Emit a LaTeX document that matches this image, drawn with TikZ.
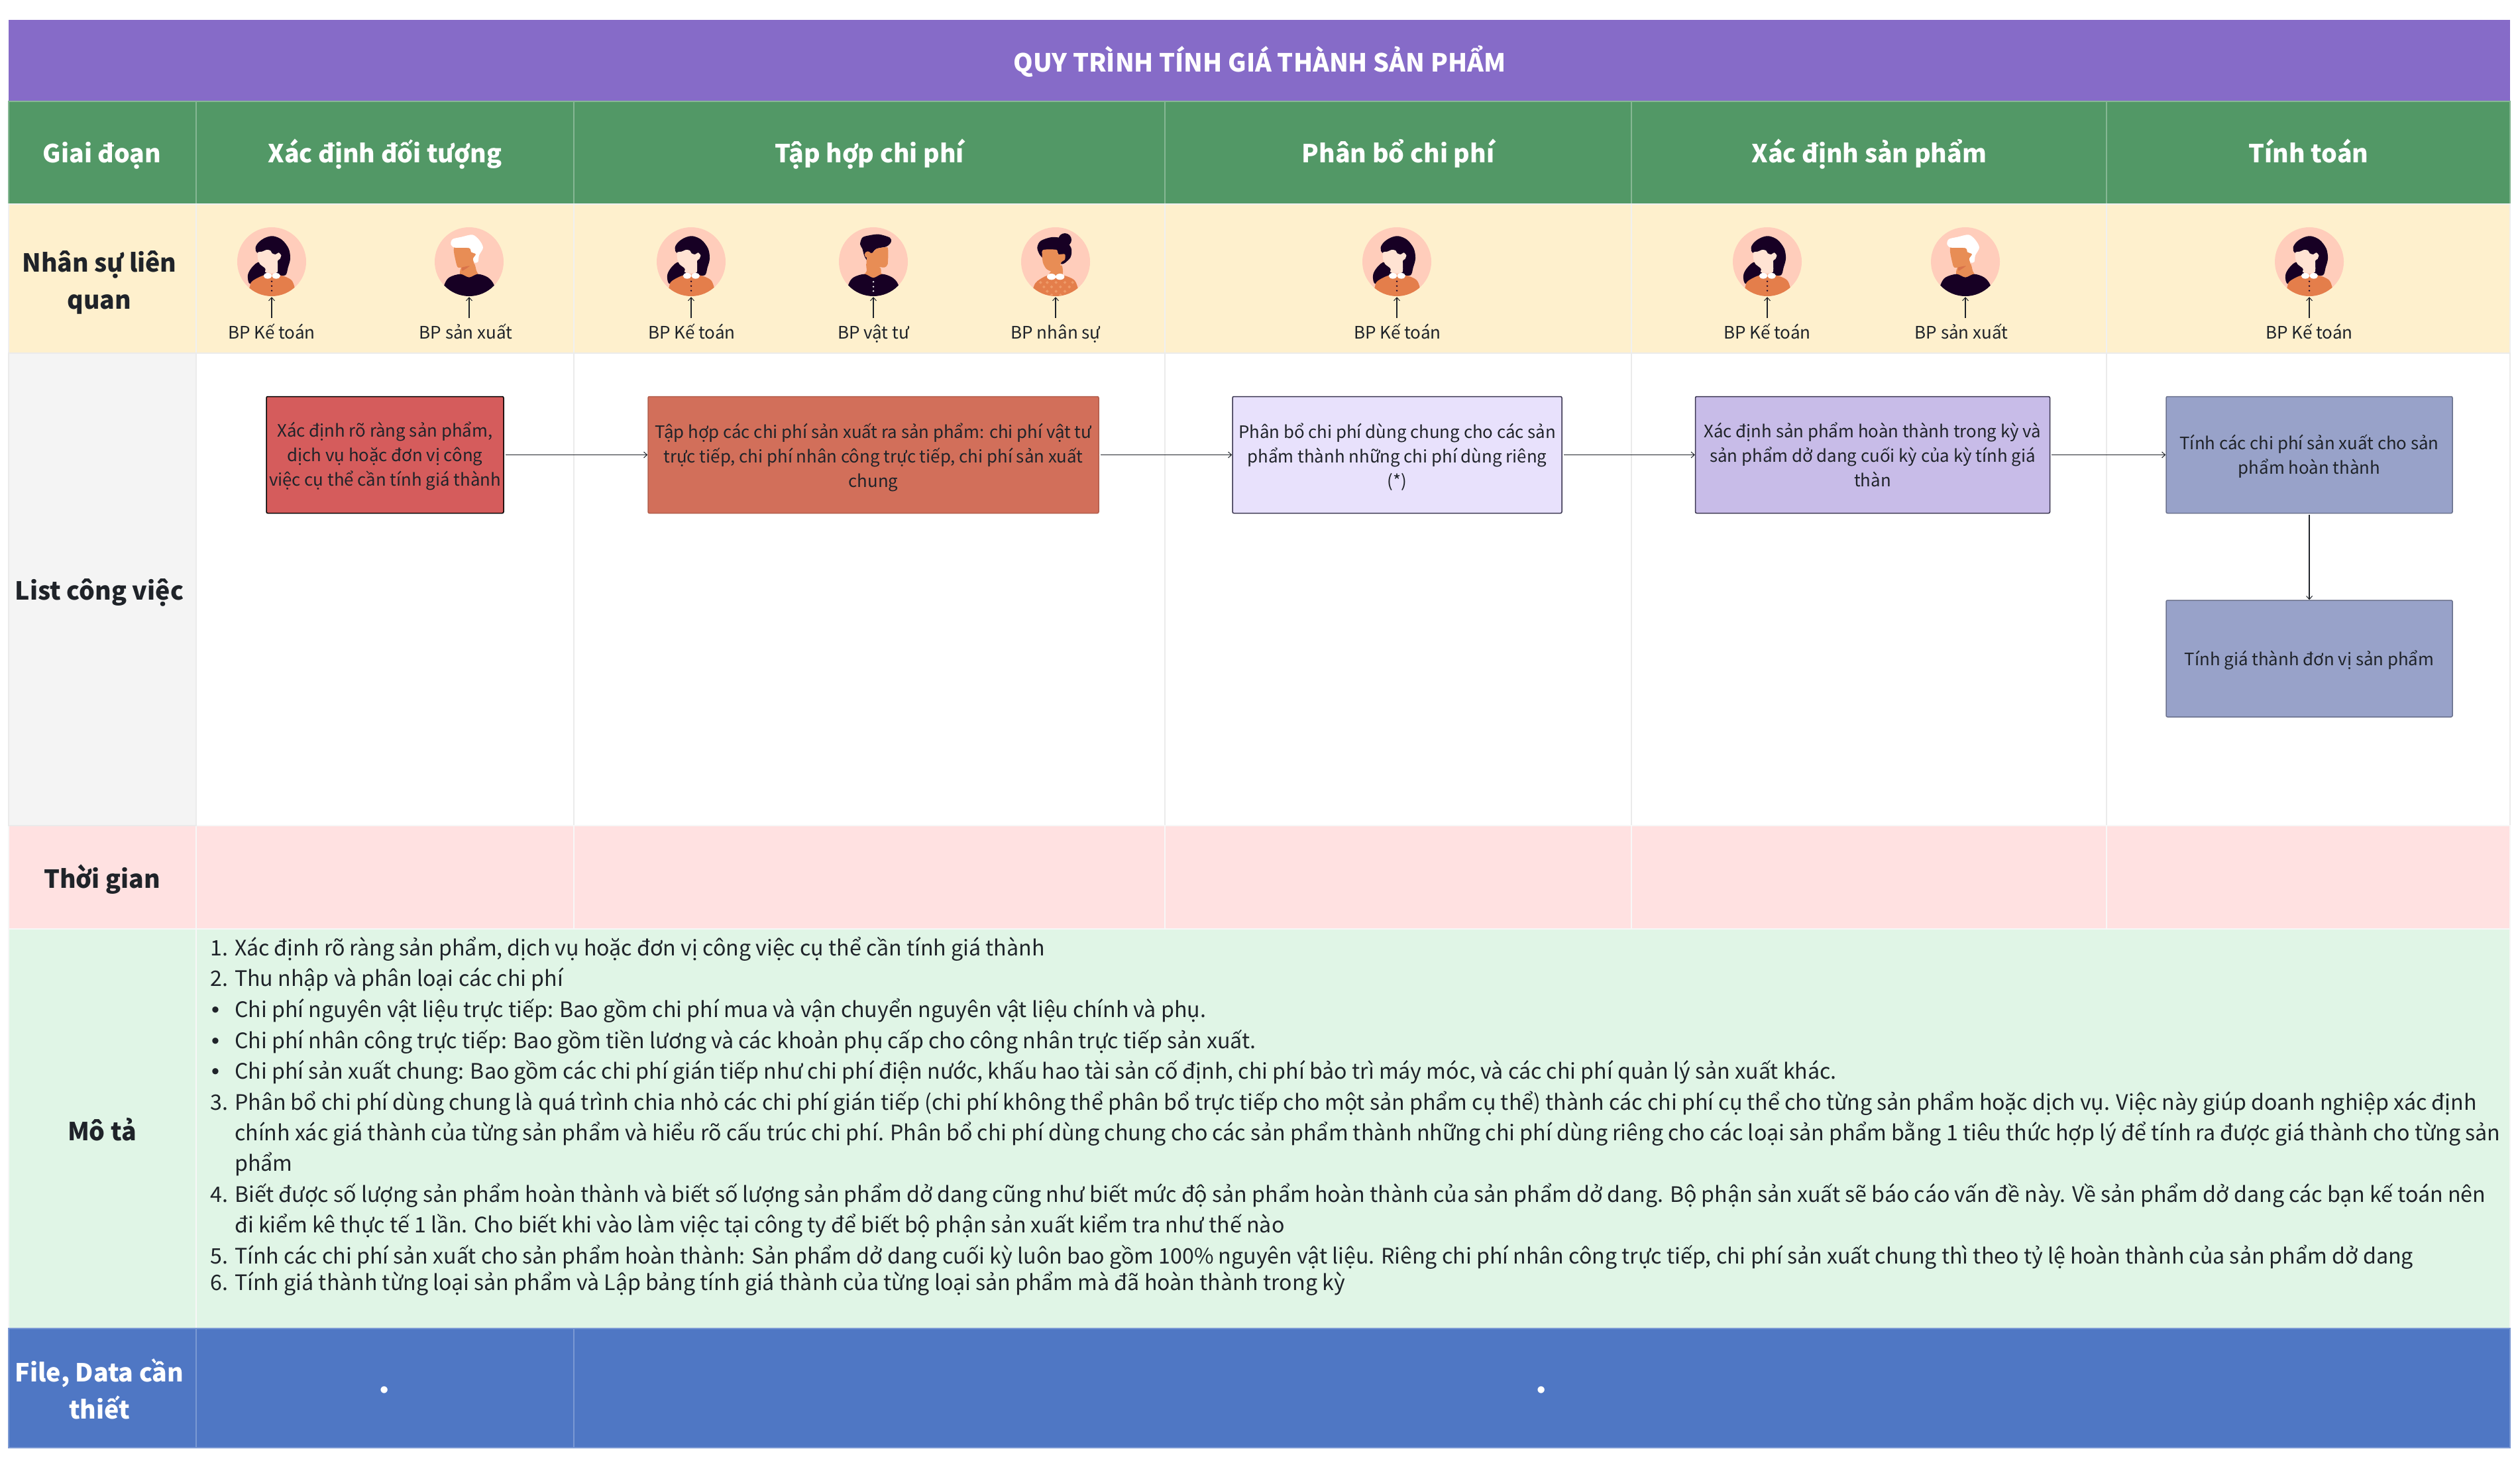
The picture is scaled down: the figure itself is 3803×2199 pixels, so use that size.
\documentclass[tikz,border=0pt]{standalone}
\usepackage{fontspec}
\setmainfont{Noto Sans CJK SC}
\newfontfamily\bulletfont{Liberation Sans}
\usetikzlibrary{arrows.meta}
\definecolor{ink}{HTML}{1F2329}
\definecolor{cTitle}{HTML}{866BC8}
\definecolor{cGreen}{HTML}{529866}
\definecolor{cYellow}{HTML}{FEF0CD}
\definecolor{cGrey}{HTML}{F4F4F4}
\definecolor{cPink}{HTML}{FFE1E1}
\definecolor{cMint}{HTML}{E0F5E6}
\definecolor{cBlue}{HTML}{4F77C4}
\definecolor{cBoxA}{HTML}{D55C5C}
\definecolor{cBoxB}{HTML}{D26F5A}
\definecolor{cBoxC}{HTML}{E8E1FC}
\definecolor{cBoxD}{HTML}{C8BCE8}
\definecolor{cBoxE}{HTML}{98A2C9}
\definecolor{cBoxEdge}{HTML}{3A3550}
\definecolor{avbg}{HTML}{FFCDBB}
\definecolor{avdark}{HTML}{170024}
\definecolor{avskin}{HTML}{E88D55}
\definecolor{avpale}{HTML}{FFE3D3}
\definecolor{avorange}{HTML}{E47E4B}
\definecolor{avshade}{HTML}{D9734A}
\definecolor{avdot}{HTML}{EE9A68}
\tikzset{
 cell/.style={line width=1.5pt},
 rowlabel/.style={font=\fontsize{37.5}{56}\selectfont\bfseries,text=ink,align=center,inner sep=0},
 headtxt/.style={font=\fontsize{37.5}{56}\selectfont\bfseries,text=white,inner sep=0,anchor=base},
 perlabel/.style={font=\fontsize{26}{34}\selectfont,text=ink,inner sep=0,anchor=base},
 taskbox/.style={draw=#1,line width=1.5pt,inner sep=0,align=center,text=ink,minimum height=176pt,rounded corners=2pt},
 boxtxt/.style={inner sep=0,align=center,text=ink,font=\fontsize{25.8}{37}\selectfont},
 desc/.style={font=\fontsize{32.15}{40}\selectfont,text=ink,inner sep=0,anchor=base west},
 dbul/.style={font=\bulletfont\fontsize{34}{40}\selectfont,text=ink,inner sep=0,anchor=base west},
 filedot/.style={font=\bulletfont\fontsize{38}{40}\selectfont,text=white,inner sep=0,anchor=base},
 conn/.style={line width=1.2pt,draw=ink,shorten <=2pt,-{Straight Barb[length=5pt,width=9pt,line width=1pt]}},
 perconn/.style={line width=1.2pt,draw=ink,-{Straight Barb[length=5pt,width=9pt,line width=1pt]},shorten >=1pt},
}
\newcommand{\avscope}[3]{\begin{scope}[shift={(#1,#2)},x=0.3333pt,y=-0.3333pt,shift={(#3,-224)}]}
\newcommand{\womanA}[2]{%
 \begin{scope}\clip (#1,#2) circle[radius=52];
 \avscope{#1}{#2}{-268}
 \fill[avdark] plot[smooth cycle,tension=.55] coordinates {(212,226)(180,248)(160,285)(172,325)(235,285)(242,262)};
 \fill[avdark] plot[smooth cycle,tension=.55] coordinates {(195,160)(210,135)(240,115)(275,108)(315,125)(345,165)(352,210)(342,250)(330,285)(290,280)(293,230)(270,200)(205,185)};
 \fill[avpale] plot[smooth cycle,tension=.35] coordinates {(205,182)(225,178)(245,170)(262,173)(270,186)(285,191)(300,183)(311,195)(305,212)(295,220)(293,272)(240,272)(240,255)(215,235)(205,210)};
 \fill[avorange] plot[smooth cycle,tension=.5] coordinates {(150,420)(168,340)(180,312)(235,285)(305,285)(355,305)(372,340)(390,420)};
 \fill[white] (250,288) ellipse[x radius=19,y radius=13] (288,288) ellipse[x radius=19,y radius=13];
 \fill[avdark] (268,313) circle[radius=4] (268,334) circle[radius=4] (268,355) circle[radius=4];
 \end{scope}\end{scope}}
\newcommand{\manW}[2]{%
 \begin{scope}\clip (#1,#2) circle[radius=52];
 \avscope{#1}{#2}{-265}
 \fill[avskin] plot[smooth cycle,tension=.4] coordinates {(230,250)(285,230)(298,265)(305,285)(265,298)(225,285)};
 \fill[avskin] plot[smooth cycle,tension=.4] coordinates {(197,160)(265,162)(275,182)(300,170)(303,195)(285,210)(285,235)(250,248)(215,250)(205,225)};
 \fill[avshade] plot[smooth cycle,tension=.3] coordinates {(232,250)(268,243)(235,265)};
 \fill[white] plot[smooth cycle,tension=.5] coordinates {(182,145)(190,122)(230,112)(280,102)(310,125)(328,160)(310,195)(305,225)(288,228)(283,210)(295,190)(275,180)(265,162)(200,160)};
 \fill[avdark] plot[smooth cycle,tension=.5] coordinates {(130,420)(152,330)(175,295)(225,280)(265,295)(305,280)(350,295)(378,330)(400,420)};
 \end{scope}\end{scope}}
\newcommand{\manD}[2]{%
 \begin{scope}\clip (#1,#2) circle[radius=52];
 \avscope{#1}{#2}{-235}
 \fill[avskin] plot[smooth cycle,tension=.4] coordinates {(205,230)(265,250)(270,275)(275,285)(235,297)(195,285)(205,265)};
 \fill[avdark] plot[smooth cycle,tension=.5] coordinates {(175,145)(185,115)(215,105)(260,100)(310,115)(315,135)(295,155)(250,165)(232,183)(215,225)(195,200)(185,165)};
 \fill[avskin] plot[smooth cycle,tension=.3] coordinates {(208,190)(232,183)(250,165)(300,160)(300,235)(285,250)(240,245)(205,235)};
 \fill[avskin] (210,192) circle[radius=15];
 \fill[avdark] plot[smooth cycle,tension=.5] coordinates {(100,420)(122,328)(145,295)(195,280)(235,297)(275,280)(320,295)(348,328)(370,420)};
 \fill[white] (235,315) circle[radius=4] (235,337) circle[radius=4] (235,357) circle[radius=4];
 \end{scope}\end{scope}}
\newcommand{\womanB}[2]{%
 \begin{scope}\clip (#1,#2) circle[radius=52];
 \avscope{#1}{#2}{-1058}
 \fill[avdark] (1100,125) circle[radius=30];
 \fill[avdark] plot[smooth cycle,tension=.5] coordinates {(975,160)(990,130)(1040,113)(1090,120)(1128,160)(1125,205)(1085,235)(1065,180)(1000,172)(1000,205)(985,190)};
 \fill[avskin] plot[smooth cycle,tension=.4] coordinates {(1040,265)(1085,240)(1088,285)(1030,285)};
 \fill[avskin] plot[smooth cycle,tension=.4] coordinates {(1000,172)(1062,170)(1070,190)(1100,190)(1100,215)(1085,225)(1072,255)(1040,268)(1015,255)(1000,225)};
 \fill[avorange] plot[smooth cycle,tension=.5] coordinates {(940,420)(958,340)(975,312)(1025,285)(1090,285)(1140,305)(1158,340)(1175,420)};
 \fill[white] (1039,292) ellipse[x radius=20,y radius=14] (1078,292) ellipse[x radius=20,y radius=14];
 \foreach \px/\py in {990/318,1020/318,1060/318,1100/318,1135/318,1005/338,1040/338,1080/338,1120/338,1020/358,1060/358,1100/358,1040/375,1080/375}
   \fill[avdot] (\px,\py-7) -- (\px+7,\py) -- (\px,\py+7) -- (\px-7,\py) -- cycle;
 \end{scope}\end{scope}}
\newcommand{\person}[5]{%
 \node[circle,fill=avbg,minimum size=104pt,inner sep=0] (a#1) at (#2,395) {};
 #4{#2}{395}
 \coordinate (s#1) at (#2,480);
 \node[perlabel] (l#1) at (#3,511) {#5};
 \draw[perconn] (s#1) -- (a#1.south);
}
\begin{document}
\begin{tikzpicture}[x=1pt,y=-1pt]
\useasboundingbox (0,0) rectangle (3803,2199);
\fill[white] (0,0) rectangle (3803,2199);
% title
\fill[cTitle] (13,30) rectangle (3788,153);
\node[font=\fontsize{37.7}{46}\selectfont\bfseries,text=white,inner sep=0] (title) at (1901,93) {QUY TRÌNH TÍNH GIÁ THÀNH SẢN PHẨM};
% rows
\def\cols{13/296,296/866,866/1758,1758/2462,2462/3179,3179/3788}
\foreach \a/\b in \cols {
 \filldraw[cell,fill=cGreen,draw=cGreen!70!white] (\a,153) rectangle (\b,308);
 \filldraw[cell,fill=cYellow,draw=black!6] (\a,308) rectangle (\b,533);
 \filldraw[cell,fill=white,draw=black!8] (\a,533) rectangle (\b,1246);
 \filldraw[cell,fill=cPink,draw=black!3] (\a,1246) rectangle (\b,1402);
}
\filldraw[cell,fill=cGrey,draw=black!8] (13,533) rectangle (296,1246);
\filldraw[cell,fill=cMint,draw=black!3] (13,1402) rectangle (296,2005);
\filldraw[cell,fill=cMint,draw=black!3] (296,1402) rectangle (3788,2005);
\filldraw[cell,fill=cBlue,draw=cBlue!75!white] (13,2005) rectangle (296,2185);
\filldraw[cell,fill=cBlue,draw=cBlue!75!white] (296,2005) rectangle (866,2185);
\filldraw[cell,fill=cBlue,draw=cBlue!75!white] (866,2005) rectangle (3788,2185);
% header
\node[headtxt] (h0) at (154,246) {Giai đoạn};
\node[headtxt] (h1) at (581,246) {Xác định đối tượng};
\node[headtxt] (h2) at (1312,246) {Tập hợp chi phí};
\node[headtxt] (h3) at (2110,246) {Phân bổ chi phí};
\node[headtxt] (h4) at (2821,246) {Xác định sản phẩm};
\node[headtxt] (h5) at (3484,246) {Tính toán};
% row labels
\node[rowlabel] (r1) at (150,426) {Nhân sự liên\\quan};
\node[rowlabel] (r2) at (150,894) {List công việc};
\node[rowlabel] (r3) at (154,1327) {Thời gian};
\node[rowlabel] (r4) at (154,1705) {Mô tả};
\node[rowlabel,text=white] (r5) at (150,2096) {File, Data cần\\thiết};
% people
\person{1}{410}{410}{\womanA}{BP Kế toán}
\person{2}{708}{703}{\manW}{BP sản xuất}
\person{3}{1043}{1044}{\womanA}{BP Kế toán}
\person{4}{1318}{1318}{\manD}{BP vật tư}
\person{5}{1593}{1593}{\womanB}{BP nhân sự}
\person{6}{2108}{2109}{\womanA}{BP Kế toán}
\person{7}{2667}{2667}{\womanA}{BP Kế toán}
\person{8}{2966}{2960}{\manW}{BP sản xuất}
\person{9}{3485}{3485}{\womanA}{BP Kế toán}
% boxes
\node[taskbox=black,fill=cBoxA,minimum width=358pt] (b1) at (581,686.5) {};
\node[taskbox=cBoxB!85!black,fill=cBoxB,minimum width=680pt] (b2) at (1318,686.5) {};
\node[taskbox=cBoxEdge,fill=cBoxC,minimum width=497pt] (b3) at (2108.5,686.5) {};
\node[taskbox=cBoxEdge,fill=cBoxD,minimum width=535pt] (b4) at (2826,686.5) {};
\node[taskbox=cBoxE!70!black,fill=cBoxE,minimum width=432pt] (b5) at (3485,686.5) {};
\node[taskbox=cBoxE!70!black,fill=cBoxE,minimum width=432pt] (b6) at (3485,994) {};
\node[boxtxt] (t1) at (581,688) {Xác định rõ ràng sản phẩm,\\dịch vụ hoặc đơn vị công\\việc cụ thể cần tính giá thành};
\node[boxtxt] (t2) at (1318,690) {Tập hợp các chi phí sản xuất ra sản phẩm: chi phí vật tư\\trực tiếp, chi phí nhân công trực tiếp, chi phí sản xuất\\chung};
\node[boxtxt] (t3) at (2108.5,690) {Phân bổ chi phí dùng chung cho các sản\\phẩm thành những chi phí dùng riêng\\(*)};
\node[boxtxt] (t4) at (2826,686) {Xác định sản phẩm hoàn thành trong kỳ và\\sản phẩm dở dang cuối kỳ của kỳ tính giá\\thàn};
\node[boxtxt] (t5) at (3485,689) {Tính các chi phí sản xuất cho sản\\phẩm hoàn thành};
\node[boxtxt] (t6) at (3485,996) {Tính giá thành đơn vị sản phẩm};
\draw[conn] (b1) -- (b2);
\draw[conn] (b2) -- (b3);
\draw[conn] (b3) -- (b4);
\draw[conn] (b4) -- (b5);
\draw[conn] (b5) -- (b6);
% description
\node[desc] (d1n) at (317,1442) {1.}; \node[desc] (d1) at (354,1442) {Xác định rõ ràng sản phẩm, dịch vụ hoặc đơn vị công việc cụ thể cần tính giá thành};
\node[desc] (d2n) at (317,1488) {2.}; \node[desc] (d2) at (354,1488) {Thu nhập và phân loại các chi phí};
\node[dbul] (d3n) at (319,1535) {•}; \node[desc] (d3) at (354,1535) {Chi phí nguyên vật liệu trực tiếp: Bao gồm chi phí mua và vận chuyển nguyên vật liệu chính và phụ.};
\node[dbul] (d4n) at (319,1582) {•}; \node[desc] (d4) at (354,1582) {Chi phí nhân công trực tiếp: Bao gồm tiền lương và các khoản phụ cấp cho công nhân trực tiếp sản xuất.};
\node[dbul] (d5n) at (319,1628) {•}; \node[desc] (d5) at (354,1628) {Chi phí sản xuất chung: Bao gồm các chi phí gián tiếp như chi phí điện nước, khấu hao tài sản cố định, chi phí bảo trì máy móc, và các chi phí quản lý sản xuất khác.};
\node[desc] (d6n) at (317,1675) {3.}; \node[desc] (d6) at (354,1675) {Phân bổ chi phí dùng chung là quá trình chia nhỏ các chi phí gián tiếp (chi phí không thể phân bổ trực tiếp cho một sản phẩm cụ thể) thành các chi phí cụ thể cho từng sản phẩm hoặc dịch vụ. Việc này giúp doanh nghiệp xác định};
\node[desc] (d7) at (354,1721) {chính xác giá thành của từng sản phẩm và hiểu rõ cấu trúc chi phí. Phân bổ chi phí dùng chung cho các sản phẩm thành những chi phí dùng riêng cho các loại sản phẩm bằng 1 tiêu thức hợp lý để tính ra được giá thành cho từng sản};
\node[desc] (d8) at (354,1767) {phẩm};
\node[desc] (d9n) at (317,1814) {4.}; \node[desc] (d9) at (354,1814) {Biết được số lượng sản phẩm hoàn thành và biết số lượng sản phẩm dở dang cũng như biết mức độ sản phẩm hoàn thành của sản phẩm dở dang. Bộ phận sản xuất sẽ báo cáo vấn đề này. Về sản phẩm dở dang các bạn kế toán nên};
\node[desc] (d10) at (354,1860) {đi kiểm kê thực tế 1 lần. Cho biết khi vào làm việc tại công ty để biết bộ phận sản xuất kiểm tra như thế nào};
\node[desc] (d11n) at (317,1907) {5.}; \node[desc] (d11) at (354,1907) {Tính các chi phí sản xuất cho sản phẩm hoàn thành: Sản phẩm dở dang cuối kỳ luôn bao gồm 100\% nguyên vật liệu. Riêng chi phí nhân công trực tiếp, chi phí sản xuất chung thì theo tỷ lệ hoàn thành của sản phẩm dở dang};
\node[desc] (d12n) at (317,1947) {6.}; \node[desc] (d12) at (354,1947) {Tính giá thành từng loại sản phẩm và Lập bảng tính giá thành của từng loại sản phẩm mà đã hoàn thành trong kỳ};
% file cells
\node[filedot] (f1) at (580,2110) {•};
\node[filedot] (f2) at (2326,2110) {•};
\end{tikzpicture}
\end{document}
